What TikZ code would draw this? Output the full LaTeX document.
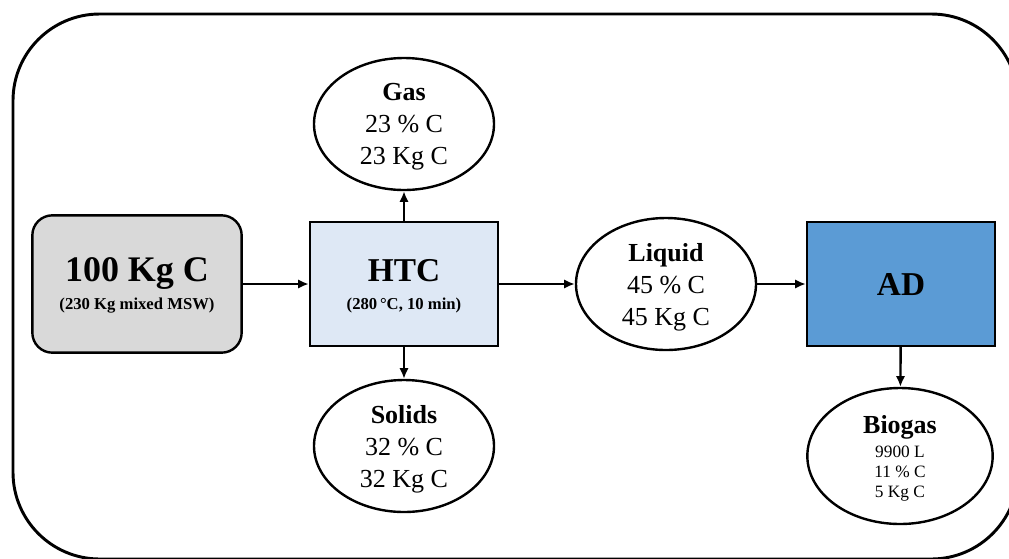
\documentclass[tikz,border=0pt]{standalone}
\usepackage{fontspec}
\setmainfont{Liberation Serif}
\usepackage{tikz}
\usetikzlibrary{arrows.meta,positioning,shapes.geometric}
\definecolor{boxgray}{HTML}{D9D9D9}
\definecolor{htcblue}{HTML}{DEE8F5}
\definecolor{adblue}{HTML}{5B9BD5}

\begin{document}
\begin{tikzpicture}[x=0.75pt,y=-0.75pt,>={Latex[length=8pt,width=7pt]},
  blk/.style={draw,line width=1.8pt,rectangle,align=center,minimum width=141pt,minimum height=93pt,
    font=\fontsize{12.5}{21}\selectfont,text depth=-1pt},
  prod/.style={draw,line width=1.8pt,ellipse,align=center,inner sep=0pt,minimum width=135pt,minimum height=99pt,
    font=\fontsize{19.5}{24}\selectfont,text depth=-1pt},
  flow/.style={->,line width=1.8pt}]
\useasboundingbox (0,0) rectangle (1009,558);
\draw[line width=2.2pt,rounded corners=65pt] (13,14) rectangle (1018,559);
% boxes
\node[blk,fill=boxgray,rounded corners=15pt,minimum width=157pt,minimum height=103pt] (feed) at (137,284)
  {\fontsize{27}{30}\selectfont\bfseries 100 Kg C\\\bfseries (230 Kg mixed MSW)};
\node[blk,fill=htcblue] (htc) at (404,284)
  {\fontsize{25}{30}\selectfont\bfseries HTC\\\bfseries (280\,°C, 10 min)};
\node[blk,fill=adblue,text depth=0pt] (ad) at (901,284) {\fontsize{25}{30}\selectfont\bfseries AD};
% products
\node[prod] (gas) at (404,124) {\textbf{Gas}\\23 \% C\\23 Kg C};
\node[prod] (solids) at (404,446) {\textbf{Solids}\\32 \% C\\32 Kg C};
\node[prod] (liquid) at (666,284) {\textbf{Liquid}\\45 \% C\\45 Kg C};
\node[prod,minimum width=139pt,minimum height=102pt,font=\fontsize{13}{15}\selectfont,text depth=-2pt] (biogas) at (900,456)
  {\fontsize{19.5}{20}\selectfont\bfseries Biogas\\[3pt]9900 L\\11 \% C\\5 Kg C};
% flows
\draw[flow] (feed) -- (htc);
\draw[flow] (htc) -- (liquid);
\draw[flow] (liquid) -- (ad);
\draw[flow] (htc) -- (gas);
\draw[flow] (htc) -- (solids);
\draw[flow] (ad) -- (biogas);
\end{tikzpicture}
\end{document}
